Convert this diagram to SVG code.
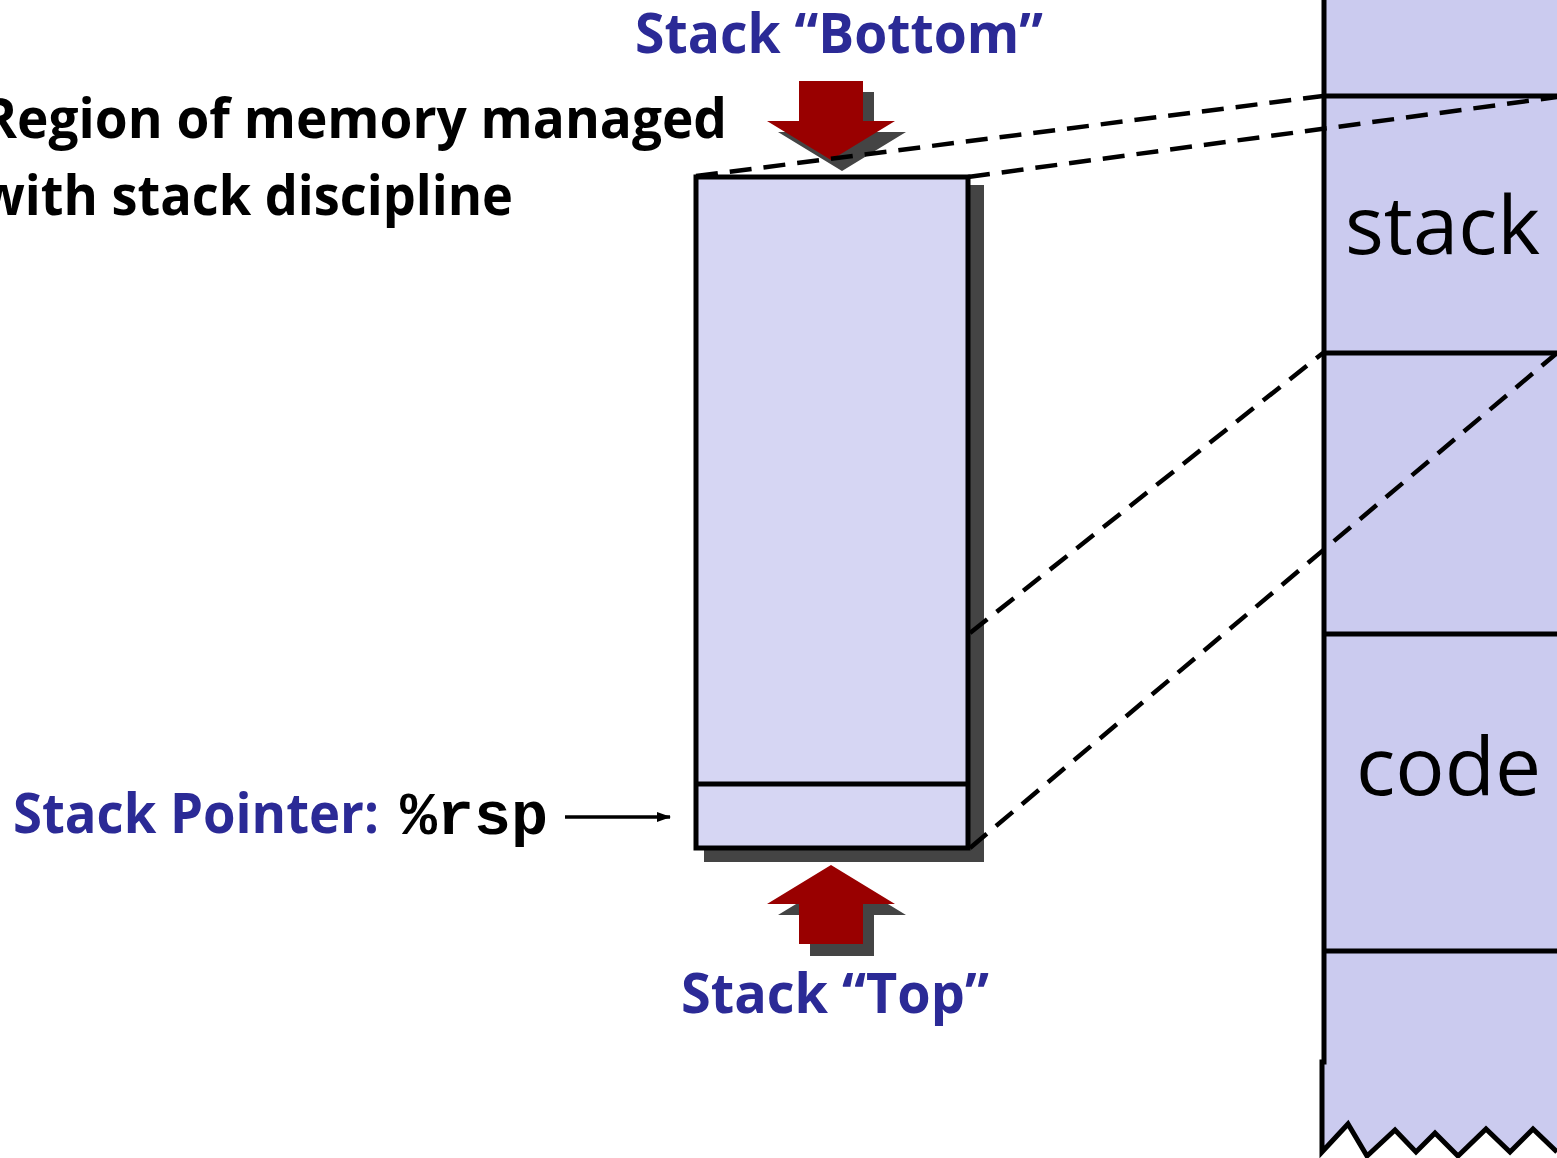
<svg xmlns="http://www.w3.org/2000/svg" width="1557" height="1158" viewBox="0 0 1557 1158">
<style>
.lbl{font-family:"Open Sans","Liberation Sans",sans-serif;font-weight:bold;font-size:56px}
.blue{fill:#2B2A96}
.blk{fill:#000}
.mem{font-family:"Open Sans","Liberation Sans",sans-serif;font-size:80px;fill:#000}
.mono{font-family:"Liberation Mono","Courier New",monospace;font-weight:bold;font-size:62px;fill:#000}
.dash{fill:none;stroke:#000;stroke-width:4.5;stroke-dasharray:22 12}
.shadow{fill:#444}
.red{fill:#990000}
.edge{stroke:#000;stroke-width:5}
</style>
<defs>
<marker id="ah" markerWidth="14" markerHeight="10" refX="13" refY="5" orient="auto" markerUnits="userSpaceOnUse">
<path d="M0,0 L14,5 L0,10 z" fill="#000"/>
</marker>
</defs>
<rect width="1557" height="1158" fill="#fff"/>

<g id="memory">
<path d="M1323,0 L1560,0 L1560,1152 L1533,1129 L1510,1152 L1486,1129 L1458,1156 L1435,1133 L1416,1152 L1395,1130 L1367,1156 L1348,1124 L1322,1152 Z" fill="#CBCBEF"/>
<path d="M1324,0 L1324,1062 L1322,1062 L1322,1152 L1348,1124 L1367,1156 L1395,1130 L1416,1152 L1435,1133 L1458,1156 L1486,1129 L1510,1152 L1533,1129 L1557,1152" fill="none" stroke="#000" stroke-width="5" stroke-linejoin="miter"/>
<line class="edge" x1="1323" y1="96" x2="1557" y2="96"/>
<line class="edge" x1="1323" y1="353" x2="1557" y2="353"/>
<line class="edge" x1="1323" y1="634" x2="1557" y2="634"/>
<line class="edge" x1="1323" y1="951" x2="1557" y2="951"/>
<text class="mem" x="1345" y="254" textLength="195" lengthAdjust="spacingAndGlyphs">stack</text>
<text class="mem" x="1356" y="795" textLength="185" lengthAdjust="spacingAndGlyphs">code</text>
</g>

<g id="stackbox">
<rect class="shadow" x="704" y="185" width="280" height="677"/>
<rect x="696" y="177" width="272" height="671" fill="#D6D6F3" stroke="#000" stroke-width="5"/>
<line class="edge" x1="696" y1="784" x2="968" y2="784"/>
</g>

<g id="bottom-arrow">
<polygon class="shadow" points="810,92 874,92 874,132 906,132 842,171 778,132 810,132"/>
<polygon class="red" points="799,81 863,81 863,121 895,121 831,160 767,121 799,121"/>
</g>

<g id="top-arrow">
<polygon class="shadow" points="842,876 906,915 874,915 874,956 810,956 810,915 778,915"/>
<polygon class="red" points="831,865 895,904 863,904 863,944 799,944 799,904 767,904"/>
</g>

<g id="connectors">
<line class="dash" x1="696" y1="176" x2="1323" y2="96"/>
<line class="dash" x1="968" y1="177" x2="1557" y2="97"/>
<line class="dash" x1="970" y1="633" x2="1323" y2="353"/>
<line class="dash" x1="970" y1="848" x2="1557" y2="353"/>
<line x1="565" y1="817" x2="670" y2="817" stroke="#000" stroke-width="3.5" marker-end="url(#ah)"/>
</g>

<g id="labels">
<text class="lbl blue" x="635" y="53" textLength="408" lengthAdjust="spacingAndGlyphs">Stack “Bottom”</text>
<text class="lbl blk" x="-18" y="138" textLength="745" lengthAdjust="spacingAndGlyphs">Region of memory managed</text>
<text class="lbl blk" x="-20" y="215" textLength="533" lengthAdjust="spacingAndGlyphs">with stack discipline</text>
<text class="lbl blue" x="13" y="833" textLength="366" lengthAdjust="spacingAndGlyphs">Stack Pointer:</text>
<text class="mono" x="400" y="834" textLength="148" lengthAdjust="spacingAndGlyphs">%rsp</text>
<text class="lbl blue" x="681" y="1013" textLength="308" lengthAdjust="spacingAndGlyphs">Stack “Top”</text>
</g>
</svg>
